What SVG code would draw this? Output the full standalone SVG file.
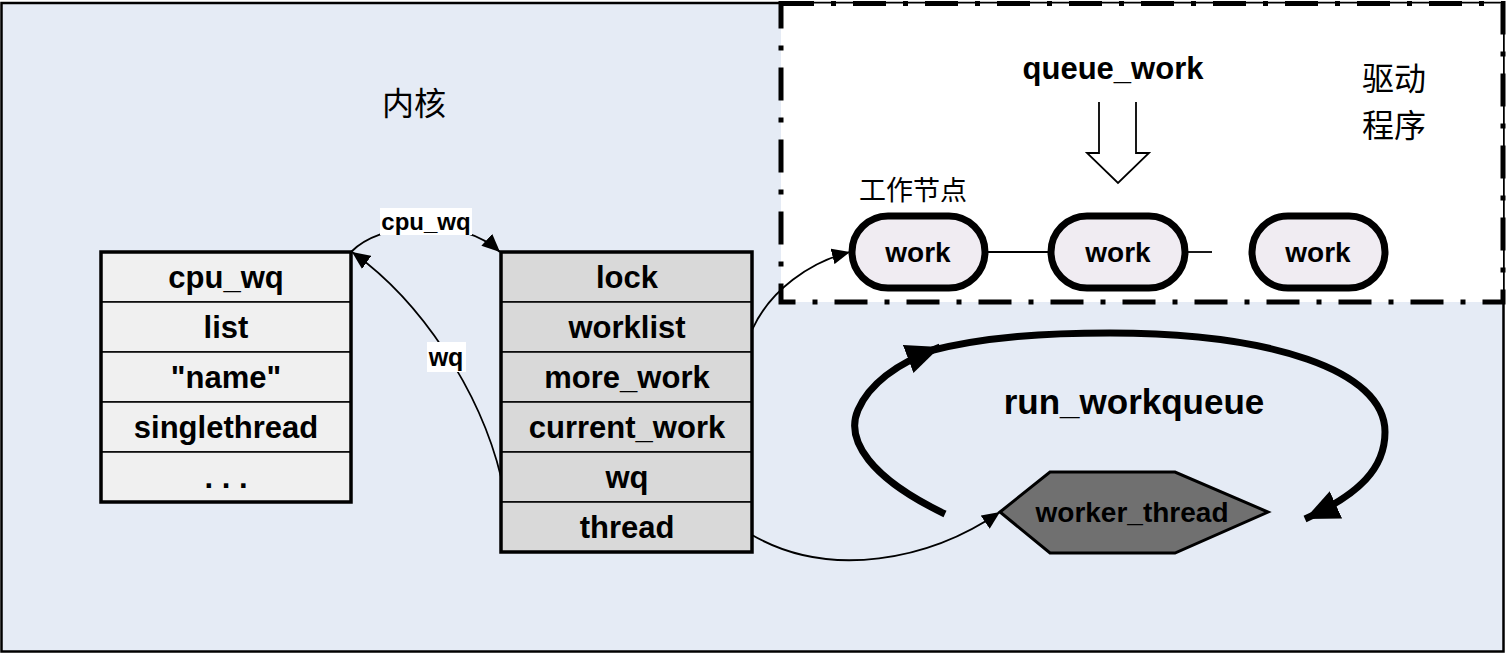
<svg xmlns="http://www.w3.org/2000/svg" width="1507" height="654" viewBox="0 0 1507 654">
<defs>
<style>
.t{font-family:"Liberation Sans",Arial,sans-serif;font-weight:bold;fill:#000;text-anchor:middle}
.cn{font-family:"Noto Sans CJK SC",sans-serif;fill:#000}
.cell1{fill:#f0f0f0;stroke:#000;stroke-width:1.5}
.cell2{fill:#d9d9d9;stroke:#000;stroke-width:1.5}
.frame{fill:none;stroke:#000;stroke-width:3.5}
.work{fill:#f0ecf2;stroke:#000;stroke-width:7}
.thin{fill:none;stroke:#000;stroke-width:1.8}
.thick{fill:none;stroke:#000;stroke-width:7}
</style>
<marker id="ah" markerUnits="userSpaceOnUse" markerWidth="20" markerHeight="16" refX="18" refY="8" orient="auto">
<path d="M0,0 L18,8 L0,16 Z" fill="#000"/>
</marker>
<marker id="big" markerUnits="userSpaceOnUse" markerWidth="36" markerHeight="30" refX="34" refY="15" orient="auto">
<path d="M0,0 L34,15 L0,30 Z" fill="#000"/>
</marker>
</defs>
<rect x="1.5" y="3" width="1502" height="648.5" fill="#e5ebf5" stroke="#000" stroke-width="2.5"/>
<g id="driver">
<rect x="781" y="3.5" width="722" height="298.5" fill="#fff" stroke="#000" stroke-width="5" stroke-dasharray="33 17 5 17"/>
<text class="cn" x="1362" y="90" font-size="32">驱动</text>
<text class="cn" x="1362" y="137" font-size="32">程序</text>
</g>
<text id="kernel" class="cn" x="382" y="115" font-size="32">内核</text>
<g id="queue_work">
<text class="t" x="1113" y="79" font-size="31">queue_work</text>
<path d="M1099,102 L1099,153 L1087,153 L1118,183 L1149,153 L1136,153 L1136,102" fill="#fff" stroke="#000" stroke-width="1.8"/>
</g>
<text id="worknode-label" class="cn" x="859" y="200" font-size="27">工作节点</text>
<g id="connectors">
<line x1="985" y1="252" x2="1050" y2="252" stroke="#000" stroke-width="1.8"/>
<line x1="1185" y1="252" x2="1212" y2="252" stroke="#000" stroke-width="1.8"/>
<path class="thin" d="M351,252 C380,222 460,215 500,252" marker-end="url(#ah)"/>
<path class="thin" d="M501,477 C480,390 420,300 352,252" marker-end="url(#ah)"/>
<path class="thin" d="M752,330 C770,290 810,262 850,252" marker-end="url(#ah)"/>
<path class="thin" d="M752,535 C830,580 930,560 1000,512" marker-end="url(#ah)"/>
<path class="thick" d="M945,514 C870,478 845,440 858,410 C870,382 900,362 940,347" marker-end="url(#big)"/>
<path class="thick" d="M925,352 C985,336 1050,333 1110,333 C1270,333 1385,370 1385,432 C1385,468 1360,494 1305,519" marker-end="url(#big)"/>
<rect x="380" y="208" width="92" height="27" fill="#fff"/>
<text class="t" x="426" y="230" font-size="24">cpu_wq</text>
<rect x="427" y="342" width="39" height="30" fill="#fff"/>
<text class="t" x="446" y="366" font-size="25">wq</text>
</g>
<g id="workqueue_struct">
<rect class="cell1" x="101" y="252" width="250" height="50"/>
<rect class="cell1" x="101" y="302" width="250" height="50"/>
<rect class="cell1" x="101" y="352" width="250" height="50"/>
<rect class="cell1" x="101" y="402" width="250" height="50"/>
<rect class="cell1" x="101" y="452" width="250" height="50"/>
<rect class="frame" x="101" y="252" width="250" height="250"/>
<text class="t" x="226" y="288" font-size="31">cpu_wq</text>
<text class="t" x="226" y="338" font-size="31">list</text>
<text class="t" x="226" y="388" font-size="31">"name"</text>
<text class="t" x="226" y="438" font-size="31">singlethread</text>
<text class="t" x="226" y="488" font-size="31">. . .</text>
</g>
<g id="cpu_workqueue_struct">
<rect class="cell2" x="501" y="252" width="251" height="50"/>
<rect class="cell2" x="501" y="302" width="251" height="50"/>
<rect class="cell2" x="501" y="352" width="251" height="50"/>
<rect class="cell2" x="501" y="402" width="251" height="50"/>
<rect class="cell2" x="501" y="452" width="251" height="50"/>
<rect class="cell2" x="501" y="502" width="251" height="50"/>
<rect class="frame" x="501" y="252" width="251" height="300"/>
<text class="t" x="627" y="288" font-size="31">lock</text>
<text class="t" x="627" y="338" font-size="31">worklist</text>
<text class="t" x="627" y="388" font-size="31">more_work</text>
<text class="t" x="627" y="438" font-size="31">current_work</text>
<text class="t" x="627" y="488" font-size="31">wq</text>
<text class="t" x="627" y="538" font-size="31">thread</text>
</g>
<g id="work1">
<rect class="work" x="852" y="216" width="133" height="72" rx="36"/>
<text class="t" x="918" y="262" font-size="28">work</text>
</g>
<g id="work2">
<rect class="work" x="1051" y="216" width="134" height="72" rx="36"/>
<text class="t" x="1118" y="262" font-size="28">work</text>
</g>
<g id="work3">
<rect class="work" x="1252" y="216" width="133" height="72" rx="36"/>
<text class="t" x="1318" y="262" font-size="28">work</text>
</g>
<text id="run_workqueue" class="t" x="1134" y="414" font-size="35">run_workqueue</text>
<g id="worker_thread">
<polygon points="1000,512 1050,472 1175,472 1268,512 1175,553 1050,553" fill="#707070" stroke="#000" stroke-width="3"/>
<text class="t" x="1132" y="522" font-size="28">worker_thread</text>
</g>
</svg>
